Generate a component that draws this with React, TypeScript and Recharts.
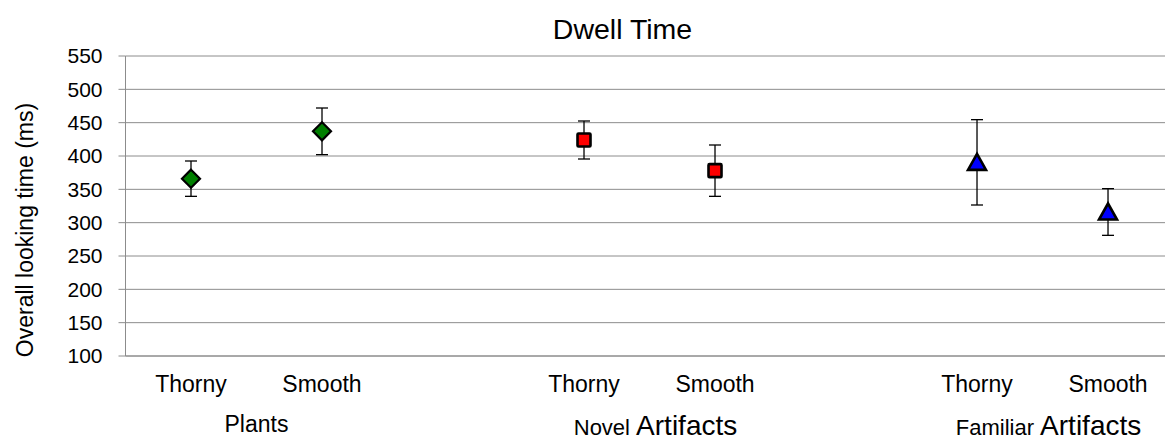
import React from 'react';
import { ScatterChart, Scatter, XAxis, YAxis, CartesianGrid, ErrorBar } from 'recharts';

const categories = ['Thorny', 'Smooth'];
const groups = ['Plants', 'Novel Artifacts', 'Familiar Artifacts'];
const plantsMeans = [366, 437];
const plantsErrors = [26.5, 35];
const novelMeans = [424, 378];
const novelErrors = [28.5, 38.5];
const familiarMeans = [390.5, 316];
const familiarErrors = [64, 35];
const yTicks = [100, 150, 200, 250, 300, 350, 400, 450, 500, 550];

const FONT = '"Liberation Sans", Arial, sans-serif';
const SLOTS_PER_GROUP = 3;

const build = (g: number, means: number[], errs: number[]) =>
  means.map((m, i) => ({ x: g * SLOTS_PER_GROUP + i, y: m, err: errs[i], name: categories[i] }));

const plantsData = build(0, plantsMeans, plantsErrors);
const novelData = build(1, novelMeans, novelErrors);
const familiarData = build(2, familiarMeans, familiarErrors);

const catTicks = groups.flatMap((_, g) => categories.map((_, i) => g * SLOTS_PER_GROUP + i));
const groupTicks = groups.map((_, g) => g * SLOTS_PER_GROUP + (categories.length - 1) / 2);
const xDomain = [-0.5, 7.435];

const Diamond = (p: any) => {
  const { cx, cy } = p;
  const r = 9;
  return (
    <polygon
      points={`${cx},${cy - r} ${cx + r},${cy} ${cx},${cy + r} ${cx - r},${cy}`}
      fill="#007f00"
      stroke="#000"
      strokeWidth={2.2}
    />
  );
};

const Square = (p: any) => {
  const { cx, cy } = p;
  const s = 13;
  return <rect x={cx - s / 2} y={cy - s / 2} width={s} height={s} fill="#ff0000" stroke="#000" strokeWidth={2.6} rx={1} />;
};

const Triangle = (p: any) => {
  const { cx, cy } = p;
  return (
    <polygon
      points={`${cx},${cy - 8.5} ${cx + 9},${cy + 7.5} ${cx - 9},${cy + 7.5}`}
      fill="#0000ff"
      stroke="#000"
      strokeWidth={2.6}
      strokeLinejoin="miter"
    />
  );
};

const CategoryTick = (props: any) => {
  const { x, y, payload } = props;
  return (
    <text x={x} y={y + 36} textAnchor="middle" fontSize={23} fill="#000" fontFamily={FONT}>
      {categories[payload.value % SLOTS_PER_GROUP]}
    </text>
  );
};

const GroupTick = (props: any) => {
  const { x, y, payload } = props;
  const label = groups[Math.floor(payload.value / SLOTS_PER_GROUP)];
  const words = label.split(' ');
  if (words.length === 1) {
    return (
      <text x={x} y={y + 26} textAnchor="middle" fontSize={23} fill="#000" fontFamily={FONT}>
        {label}
      </text>
    );
  }
  return (
    <text x={x + 6} y={y + 29} textAnchor="middle" fill="#000" fontFamily={FONT}>
      <tspan fontSize={22}>{words[0] + ' '}</tspan>
      <tspan fontSize={28}>{words.slice(1).join(' ')}</tspan>
    </text>
  );
};

export default function App() {
  return (
    <div style={{ position: 'absolute', left: 0, top: 0, width: 1165, height: 441, overflow: 'hidden', background: '#fff' }}>
      <ScatterChart width={1165} height={441} margin={{ top: 56, right: 0, bottom: 0, left: 0 }}>
        <CartesianGrid vertical={false} stroke="#8c8c8c" strokeWidth={1} />
        <XAxis
          type="number"
          dataKey="x"
          domain={xDomain}
          ticks={catTicks}
          allowDataOverflow
          height={50}
          tickSize={0}
          tickMargin={0}
          tickLine={false}
          axisLine={{ stroke: '#8c8c8c' }}
          tick={<CategoryTick />}
        />
        <XAxis
          xAxisId="group"
          type="number"
          dataKey="x"
          domain={xDomain}
          ticks={groupTicks}
          allowDataOverflow
          height={35}
          tickSize={0}
          tickMargin={0}
          tickLine={false}
          axisLine={false}
          tick={<GroupTick />}
        />
        <YAxis
          type="number"
          dataKey="y"
          domain={[100, 550]}
          ticks={yTicks}
          width={125.5}
          tickSize={7}
          tickMargin={16}
          tickLine={{ stroke: '#8c8c8c' }}
          axisLine={{ stroke: '#8c8c8c' }}
          tick={{ fontSize: 21, fill: '#000', fontFamily: FONT }}
        />
        <Scatter data={plantsData} shape={Diamond} isAnimationActive={false}>
          <ErrorBar dataKey="err" direction="y" width={6} stroke="#000" strokeWidth={1.3} />
        </Scatter>
        <Scatter data={novelData} shape={Square} isAnimationActive={false}>
          <ErrorBar dataKey="err" direction="y" width={6} stroke="#000" strokeWidth={1.3} />
        </Scatter>
        <Scatter data={familiarData} shape={Triangle} isAnimationActive={false}>
          <ErrorBar dataKey="err" direction="y" width={6} stroke="#000" strokeWidth={1.3} />
        </Scatter>
      </ScatterChart>
      <svg width={1165} height={441} style={{ position: 'absolute', left: 0, top: 0, pointerEvents: 'none' }}>
        <text x={622.5} y={39} textAnchor="middle" fontSize={28.5} fill="#000" fontFamily={FONT}>
          Dwell Time
        </text>
        <text
          x={33}
          y={230}
          transform="rotate(-90 33 230)"
          textAnchor="middle"
          fontSize={23}
          fill="#000"
          fontFamily={FONT}
        >
          Overall looking time (ms)
        </text>
      </svg>
    </div>
  );
}
